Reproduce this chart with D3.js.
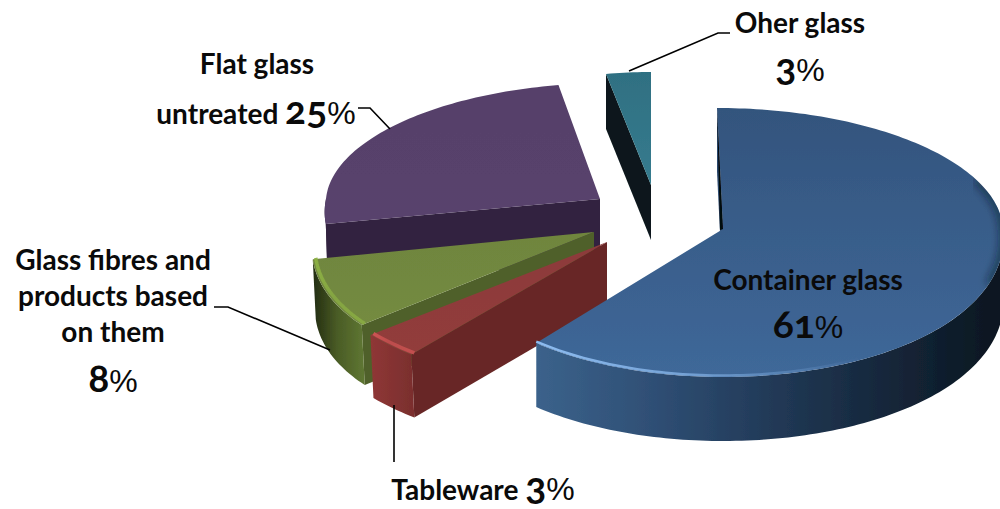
<!DOCTYPE html>
<html>
<head>
<meta charset="utf-8">
<script src="https://cdn.jsdelivr.net/npm/d3@7"></script>
<style>
  html, body { margin: 0; padding: 0; background: #fff; }
  svg { display: block; }
  text { font-family: Lato, "Open Sans", sans-serif; font-weight: 700; fill: #0a0a0a; font-feature-settings: "onum"; }
</style>
</head>
<body>
<div id="chart"></div>
<script>
// clockwise from 12 o'clock
let categories = ["Container glass", "Tableware", "Glass fibres", "Flat glass", "Other glass"];
let shares = [61, 3, 8, 25, 3];

let width = 1000;
let height = 509;

// each exploded slice has its own apex and perspective, fitted by eye
let geometry = {
  "Container glass": { ax: 723, ay: 229, rx: 280, up: 121, down: 148, m: 0.06, lean: -6, depth: 64, tuck: 0 },
  "Tableware": { ax: 607, ay: 242, rx: 307, up: 121, down: 146, m: 0, lean: 0, depth: 63, tuck: 3 },
  "Glass fibres": { ax: 594, ay: 232, rx: 280, up: 121, down: 146, m: 0.12, lean: 0, depth: 60, tuck: 3 },
  "Flat glass": { ax: 600, ay: 199, rx: 274, up: 116, down: 134, m: 0.1, lean: 10, depth: 62, tuck: 2 },
  "Other glass": { ax: 651, ay: 185, rx: 240, up: 113, down: 113, m: 0, lean: 0, depth: 55, tuck: 0 }
};

let colours = {
  "Container glass": { top: ["#33547d", "#3f6899"], cut: "#2c4a6e", wall: ["#3b628b", "#2f4f75", "#223a58", "#15273b", "#0b1620"], bevel: "#8dbcf0" },
  "Tableware": { top: ["#8c3a3a", "#923c3b"], cut: "#672826", wall: ["#8f3736", "#7b2f2e"], bevel: "#cf5554" },
  "Glass fibres": { top: ["#6f853e", "#748b40"], cut: "#4f6029", wall: ["#222c10", "#4a5c26", "#5d7431"], bevel: "#8cb044" },
  "Flat glass": { top: ["#56406a", "#59436d"], cut: "#33233f", wall: ["#33233f", "#33233f"], bevel: null },
  "Other glass": { top: ["#2f7082", "#367b8e"], cut: "#0a181b", wall: ["#0a181b", "#0a181b"], bevel: null }
};

let drawOrder = ["Flat glass", "Other glass", "Glass fibres", "Tableware", "Container glass"];

let pie = d3.pie().sort(null).value(function (d) { return d; });
let slices = pie(shares);

function project(name, angle, drop) {
  let g = geometry[name];
  let c = Math.cos(angle);
  let s = Math.sin(angle);
  let squeeze = c > 0 ? 1 : 1 + g.m * -c;
  return [
    g.ax + g.rx * s * squeeze + (c > 0 ? g.lean * c : 0) + (drop ? g.tuck : 0),
    g.ay + (c > 0 ? -g.up * c : -g.down * c) + (drop || 0)
  ];
}

function rim(name, a0, a1, drop) {
  let n = Math.max(2, Math.ceil(Math.abs(a1 - a0) / 0.02));
  return d3.range(n + 1).map(function (i) {
    return project(name, a0 + ((a1 - a0) * i) / n, drop);
  });
}

let line = d3.line();

let svg = d3.select("#chart").append("svg").attr("width", width).attr("height", height);
let defs = svg.append("defs");

defs.append("filter").attr("id", "soft").append("feGaussianBlur").attr("stdDeviation", 0.5);
defs.append("filter").attr("id", "shade").append("feGaussianBlur").attr("stdDeviation", 4);

function gradient(id, stops, x1, y1, x2, y2) {
  let grad = defs.append("linearGradient")
    .attr("id", id)
    .attr("gradientUnits", "userSpaceOnUse")
    .attr("x1", x1).attr("y1", y1).attr("x2", x2).attr("y2", y2);
  stops.forEach(function (c, i) {
    grad.append("stop").attr("offset", i / (stops.length - 1)).attr("stop-color", c);
  });
}

let chart = svg.append("g").attr("filter", "url(#soft)");

drawOrder.forEach(function (name, idx) {
  let sl = slices[categories.indexOf(name)];
  let g = geometry[name];
  let col = colours[name];
  let apex = [g.ax, g.ay];
  let pts = rim(name, sl.startAngle, sl.endAngle, 0);
  let xs = d3.extent(pts, function (p) { return p[0]; });
  let ys = d3.extent(pts.concat([apex]), function (p) { return p[1]; });
  let id = "s" + idx;

  gradient(id + "top", col.top, 0, ys[0], 0, ys[1]);
  gradient(id + "wall", col.wall, xs[0], 0, Math.min(xs[1], width), 0);

  // inner cut on the start side
  let corner = project(name, sl.startAngle, 0);
  let cornerLow = project(name, sl.startAngle, g.depth);
  chart.append("path")
    .attr("d", line([apex, corner, cornerLow, [g.ax, g.ay + g.depth]]) + "Z")
    .attr("fill", col.cut);

  // outer wall, only where the rim faces the viewer
  let a0 = Math.max(sl.startAngle, Math.PI / 2);
  let a1 = Math.min(sl.endAngle, (3 * Math.PI) / 2);
  if (a1 > a0) {
    let upper = rim(name, a0, a1, 0);
    let lower = rim(name, a0, a1, g.depth).reverse();
    chart.append("path")
      .attr("d", line(upper.concat(lower)) + "Z")
      .attr("fill", "url(#" + id + "wall)");
  }

  chart.append("path")
    .attr("d", line([apex].concat(pts)) + "Z")
    .attr("fill", "url(#" + id + "top)");

  if (a1 > a0 && col.bevel) {
    let isBig = name === "Container glass";
    let glow = defs.append("linearGradient")
      .attr("id", id + "bevel")
      .attr("gradientUnits", "userSpaceOnUse")
      .attr("x1", project(name, a1, 0)[0]).attr("y1", 0)
      .attr("x2", isBig ? 860 : project(name, a0, 0)[0]).attr("y2", 0);
    glow.append("stop").attr("offset", 0).attr("stop-color", col.bevel);
    glow.append("stop").attr("offset", 0.45).attr("stop-color", col.bevel).attr("stop-opacity", 0.7);
    glow.append("stop").attr("offset", 1).attr("stop-color", col.bevel).attr("stop-opacity", isBig ? 0 : 0.8);
    chart.append("path")
      .attr("d", line(rim(name, a0, a1, -1.5)))
      .attr("fill", "none")
      .attr("stroke", "url(#" + id + "bevel)")
      .attr("stroke-width", isBig ? 2.5 : 3.5);
  }
});

// dark shading along the right hand rim of the big slice, and its thin back cut
let big = "Container glass";
let bigApex = [geometry[big].ax, geometry[big].ay];
defs.append("clipPath").attr("id", "bigTop").append("path")
  .attr("d", line([bigApex].concat(rim(big, 0, slices[0].endAngle, 0))) + "Z");
chart.append("g").attr("clip-path", "url(#bigTop)")
  .append("path")
  .attr("d", line(rim(big, 1.15, 1.95, 0)))
  .attr("fill", "none")
  .attr("stroke", "#0b1824")
  .attr("stroke-opacity", 0.7)
  .attr("stroke-width", 6)
  .attr("filter", "url(#shade)");
chart.append("path")
  .attr("d", line([project(big, 0, 0), bigApex, [bigApex[0] - 3, bigApex[1] + 1]]) + "Z")
  .attr("fill", "#05090d");

// leader lines
let leaders = [
  [[629, 71], [718, 33], [730, 33]],
  [[358, 108], [370, 108], [390, 129]],
  [[214, 307], [228, 307], [330, 350]],
  [[394, 405], [394, 462]]
];
svg.selectAll(".leader").data(leaders).enter().append("path")
  .attr("class", "leader")
  .attr("d", function (d) { return line(d); })
  .attr("fill", "none")
  .attr("stroke", "#000")
  .attr("stroke-width", 1.6);

// labels: [x, baseline, [[text, kind], ...]], kind 0 plain, 1 big digits, 2 percent sign
let labels = [
  [800, 33, [["Oher glass", 0]]],
  [800, 81, [["3", 1], ["%", 2]]],
  [257, 74, [["Flat glass", 0]]],
  [256, 124, [["untreated ", 0], ["25", 1], ["%", 2]]],
  [113, 270, [["Glass fibres and", 0]]],
  [113, 306, [["products based", 0]]],
  [113, 342, [["on them", 0]]],
  [113, 392, [["8", 1], ["%", 2]]],
  [808, 290, [["Container glass", 0]]],
  [808, 338, [["61", 1], ["%", 2]]],
  [483, 500, [["Tableware ", 0], ["3", 1], ["%", 2]]]
];
labels.forEach(function (l) {
  let t = svg.append("text").attr("x", l[0]).attr("y", l[1]).attr("text-anchor", "middle");
  l[2].forEach(function (part) {
    let span = t.append("tspan").text(part[0]);
    if (part[1] === 0) span.attr("font-size", 28);
    if (part[1] === 1) span.attr("font-size", 39);
    if (part[1] === 2) span.attr("style", "font-family:'Liberation Sans Narrow','Liberation Sans';font-weight:400;font-size:32px");
  });
});
</script>
</body>
</html>
